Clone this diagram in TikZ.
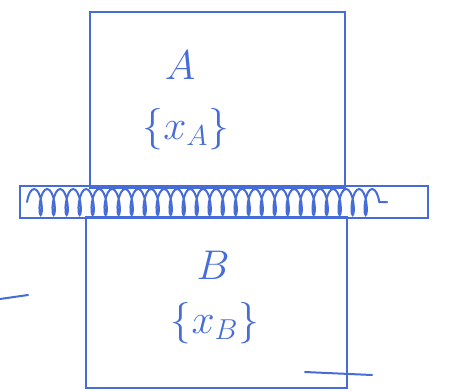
\documentclass[tikz,border=0pt]{standalone}
\usepackage{tikz}
\usetikzlibrary{positioning,decorations.pathmorphing}
\definecolor{pen}{RGB}{70,108,216}

\begin{document}
\begin{tikzpicture}[x=0.5pt, y=-0.5pt,
  box/.style={draw=pen, line width=1pt, inner sep=0pt},
  lab/.style={text=pen, font=\huge, inner sep=1pt},
  ink/.style={draw=pen, line width=1pt, line cap=round}
]
\useasboundingbox (0,0) rectangle (453,391);
\node[box, minimum width=127.5pt, minimum height=88pt] (boxA) at (217,100) {};
\node[box, minimum width=130.5pt, minimum height=85.5pt] (boxB) at (216.5,302.5) {};
\node[box, minimum width=204pt, minimum height=16pt] (wall) at (224,202) {};
\node[lab] (nameA) at (180,65) {$A$};
\node[lab, below=12pt of nameA, xshift=3pt] (setA) {$\{x_A\}$};
\node[lab] (nameB) at (213,265) {$B$};
\node[lab, below=9pt of nameB, xshift=1pt] (setB) {$\{x_B\}$};
\draw[ink, decorate, decoration={coil, aspect=0.3, segment length=6.5pt, amplitude=6.5pt}]
  ([xshift=4pt]wall.west) -- ([xshift=-21pt]wall.east);
\draw[ink] (0,299) -- (28,295);
\draw[ink] (305,372) -- (372,375);
\end{tikzpicture}
\end{document}
